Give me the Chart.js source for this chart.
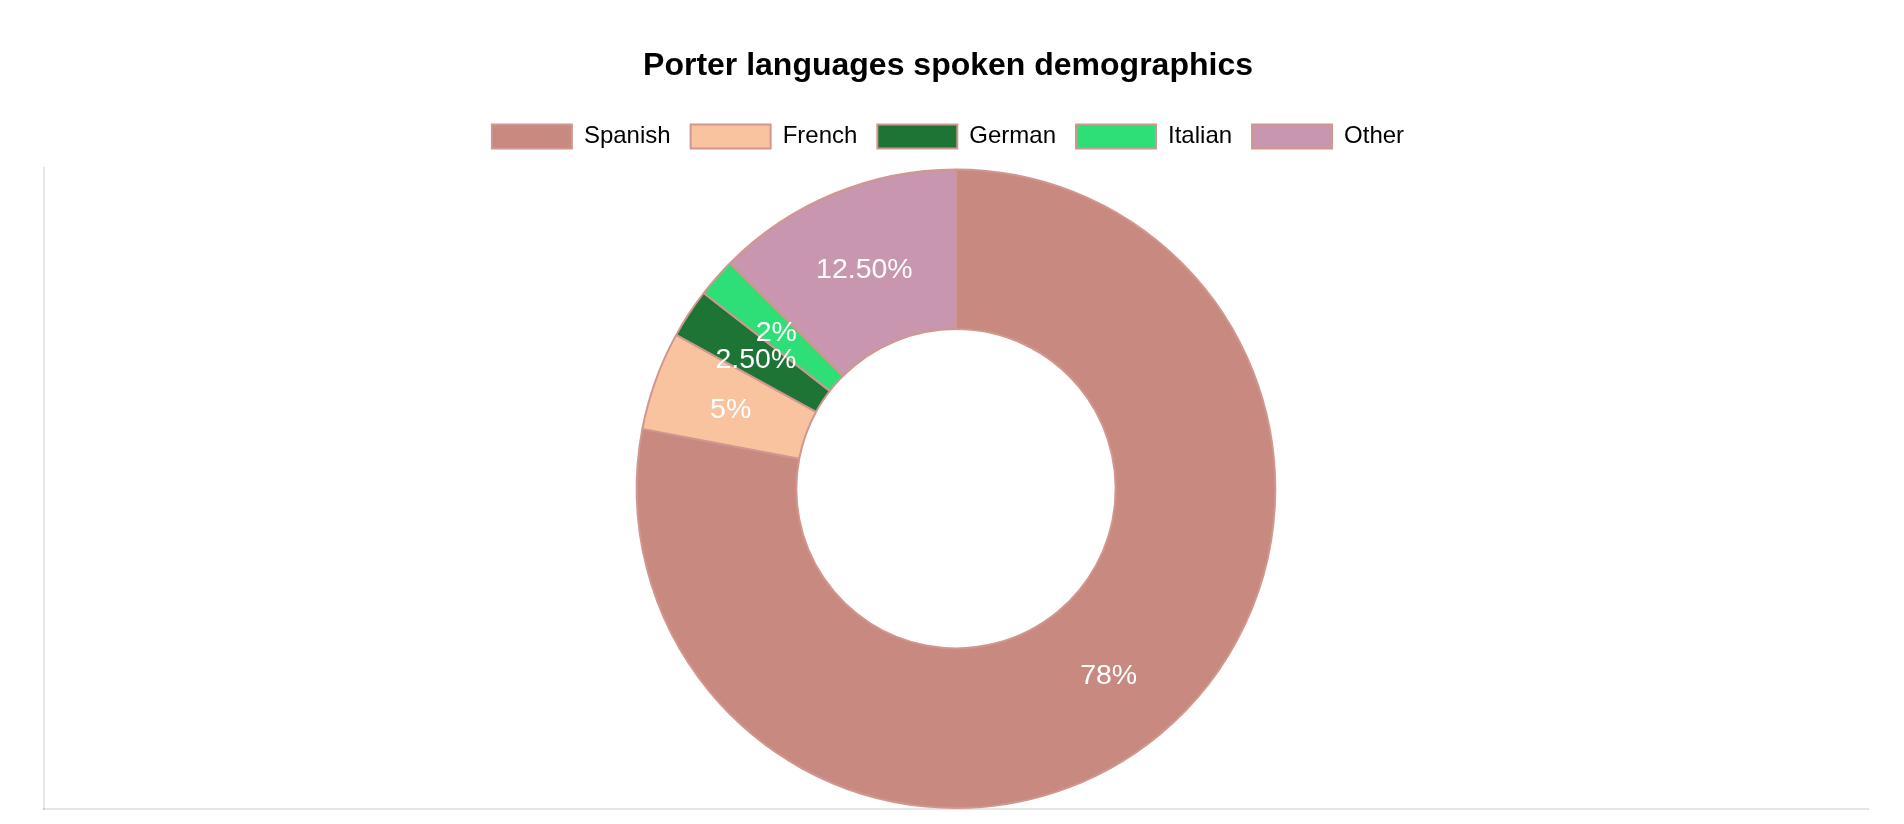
<!DOCTYPE html>
<html>
<head>
<meta charset="utf-8">
<script src="https://cdn.jsdelivr.net/npm/chart.js@4.4.0/dist/chart.umd.min.js"></script>
<style>
  html, body { margin: 0; padding: 0; background: #fff; }
  #wrap { width: 1904px; height: 824px; }
</style>
</head>
<body>
<div id="wrap"><canvas id="c" width="1904" height="824"></canvas></div>
<script>
const categories = ["Spanish", "French", "German", "Italian", "Other"];
const shares = [78, 5, 2.5, 2, 12.5];
const sliceColors = ["#c88a80", "#f8c39e", "#1d7434", "#2edf78", "#c996b0"];
const chartTitle = "Porter languages spoken demographics";

function fmtPct(v) {
  return (Number.isInteger(v) ? String(v) : v.toFixed(2)) + "%";
}

const sliceLabels = {
  id: "sliceLabels",
  afterDatasetsDraw(chart) {
    const ctx = chart.ctx;
    const meta = chart.getDatasetMeta(0);
    const data = chart.data.datasets[0].data;
    ctx.save();
    ctx.fillStyle = "#ffffff";
    ctx.font = "28.5px 'Liberation Sans', Arial, Helvetica, sans-serif";
    ctx.textAlign = "center";
    ctx.textBaseline = "middle";
    meta.data.forEach((arc, i) => {
      const p = arc.getCenterPoint();
      ctx.fillText(fmtPct(data[i]), p.x, p.y + 3);
    });
    ctx.restore();
  }
};

Chart.defaults.font.family = "'Liberation Sans', Arial, Helvetica, sans-serif";
Chart.defaults.color = "#000";

const axisCfg = (pos, tickLen) => ({
  type: "linear",
  position: pos,
  display: true,
  ticks: { display: false },
  grid: { display: false, drawTicks: tickLen > 0, tickLength: tickLen },
  border: { display: true, color: "rgba(0,0,0,0.1)", width: 2 }
});

new Chart(document.getElementById("c"), {
  type: "doughnut",
  data: {
    labels: categories,
    datasets: [{
      data: shares,
      backgroundColor: sliceColors,
      borderColor: "#d09690",
      borderWidth: 2
    }]
  },
  options: {
    responsive: false,
    devicePixelRatio: 1,
    animation: false,
    cutout: "50%",
    layout: { padding: { top: 27, left: 28, right: 36, bottom: 15 } },
    scales: {
      x: axisCfg("bottom", 0),
      y: axisCfg("left", 16),
      xTop: {
        type: "linear",
        position: "top",
        display: true,
        ticks: { display: false },
        grid: { display: false, drawTicks: true, tickLength: 10 },
        border: { display: false }
      }
    },
    plugins: {
      title: {
        display: true,
        text: chartTitle,
        color: "#000",
        font: { size: 32, weight: "bold" },
        padding: { top: 20, bottom: 19 }
      },
      legend: {
        display: true,
        position: "top",
        labels: {
          color: "#000",
          font: { size: 24 },
          boxWidth: 80,
          padding: 20
        }
      },
      tooltip: { enabled: false }
    }
  },
  plugins: [sliceLabels]
});
</script>
</body>
</html>
